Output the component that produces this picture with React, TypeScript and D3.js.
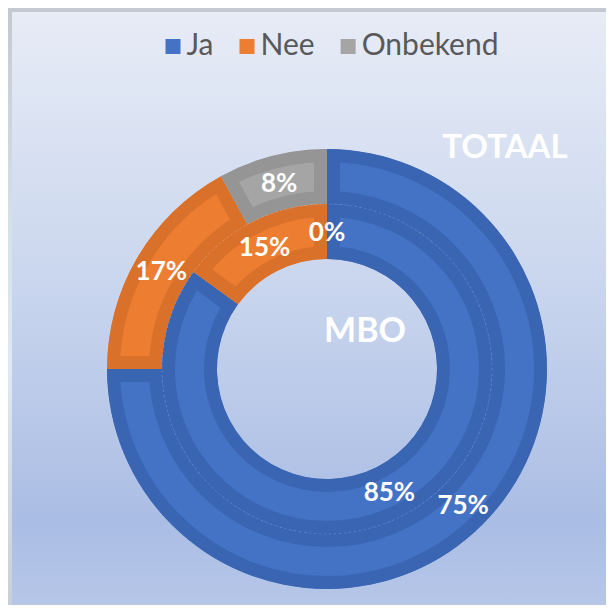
import React, { useEffect, useRef } from 'react';
import * as d3 from 'd3';

// series in drawing order (clockwise from 12 o'clock)
const categories = ['Ja', 'Nee', 'Onbekend'];
const totaalValues = [75, 17, 8];
const mboValues = [85, 15, 0];
const ringNames = ['TOTAAL', 'MBO'];

const fillColors = ['#4472C4', '#ED7D31', '#A5A5A5'];
const edgeColors = ['#3A65B3', '#D9712B', '#959595'];

const W = 614;
const H = 613;
const FONT = 'Lato, Carlito, Calibri, "Open Sans", sans-serif';

export default function App() {
  const ref = useRef<SVGSVGElement>(null);

  useEffect(() => {
    if (!ref.current) return;
    const svg = d3.select(ref.current);
    svg.selectAll('*').remove();

    const defs = svg.append('defs');
    const bg = defs.append('linearGradient').attr('id', 'panelGrad')
      .attr('x1', 0).attr('y1', 0).attr('x2', 0).attr('y2', 1);
    [['0%', '#E7ECF6'], ['45%', '#CAD6EE'], ['85%', '#AABDE4'], ['100%', '#B7C8E9']].forEach(([o, c]) =>
      bg.append('stop').attr('offset', o).attr('stop-color', c));

    const outerGrad = defs.append('linearGradient').attr('id', 'outerGrad')
      .attr('x1', 0).attr('y1', 0).attr('x2', 0).attr('y2', 1);
    [['0%', '#C3C8D0'], ['40%', '#D6E2EA'], ['60%', '#DCEAF2'], ['100%', '#C9CED6']].forEach(([o, c]) =>
      outerGrad.append('stop').attr('offset', o).attr('stop-color', c));

    // slide backdrop + chart panel
    svg.append('rect').attr('width', W).attr('height', H).attr('fill', 'url(#outerGrad)');
    svg.append('rect').attr('x', 12).attr('y', 12).attr('width', W - 12).attr('height', H - 12)
      .attr('fill', 'url(#panelGrad)');

    const cx = 327;
    const cy = 369;
    const rOuter = 220;
    const ringW = 55;
    const band = 13;

    const pie = d3.pie<number>().sort(null).value(d => d);

    const drawRing = (values: number[], r0: number, r1: number, key: string) => {
      const arc = d3.arc<d3.PieArcDatum<number>>().innerRadius(r0).outerRadius(r1);
      const g = svg.append('g').attr('transform', `translate(${cx},${cy})`);
      const arcs = pie(values);
      arcs.forEach((a, i) => {
        if (a.endAngle - a.startAngle <= 0) return;
        const id = `clip-${key}-${i}`;
        // clip in the slice's own (translated) user space
        defs.append('clipPath').attr('id', id)
          .append('path').attr('d', arc(a) as string);
        g.append('path')
          .attr('d', arc(a) as string)
          .attr('fill', fillColors[i])
          .attr('stroke', edgeColors[i])
          .attr('stroke-width', band * 2)
          .attr('clip-path', `url(#${id})`);
      });
      arcs.forEach((a, i) => {
        const [x, y] = arc.centroid(a);
        g.append('text')
          .attr('x', x).attr('y', y)
          .attr('text-anchor', 'middle').attr('dy', '0.36em')
          .attr('fill', '#fff').attr('font-family', FONT).attr('font-weight', 700)
          .attr('font-size', 26)
          .text(`${values[i]}%`);
      });
    };

    drawRing(totaalValues, rOuter - ringW, rOuter, 'tot');
    drawRing(mboValues, rOuter - 2 * ringW, rOuter - ringW, 'mbo');

    // faint dotted seam between rings
    svg.append('circle').attr('cx', cx).attr('cy', cy).attr('r', rOuter - ringW)
      .attr('fill', 'none').attr('stroke', 'rgba(255,255,255,0.2)')
      .attr('stroke-width', 0.8).attr('stroke-dasharray', '2,3');

    // ring titles
    svg.append('text').attr('x', 505).attr('y', 158).attr('text-anchor', 'middle')
      .attr('fill', '#fff').attr('font-family', FONT).attr('font-weight', 700).attr('font-size', 33)
      .text(ringNames[0]);
    svg.append('text').attr('x', 365).attr('y', 342).attr('text-anchor', 'middle')
      .attr('fill', '#fff').attr('font-family', FONT).attr('font-weight', 700).attr('font-size', 34)
      .text(ringNames[1]);

    // legend, laid out from measured text widths
    const legend = svg.append('g');
    const sw = 15;
    const gapIn = 6;
    const gapOut = 26;
    let x = 0;
    categories.forEach((c, i) => {
      const item = legend.append('g').attr('transform', `translate(${x},0)`);
      item.append('rect').attr('x', 0).attr('y', 39).attr('width', sw).attr('height', sw)
        .attr('fill', fillColors[i]);
      const t = item.append('text').attr('x', sw + gapIn).attr('y', 55)
        .attr('fill', '#595959').attr('font-family', FONT).attr('font-size', 30)
        .text(c);
      const tw = (t.node() as SVGTextElement).getComputedTextLength();
      x += sw + gapIn + tw + gapOut;
    });
    const total = x - gapOut;
    legend.attr('transform', `translate(${332 - total / 2},0)`);
  }, []);

  return (
    <div style={{ width: W, height: H, margin: -8 }}>
      <svg ref={ref} width={W} height={H} style={{ display: 'block' }} />
    </div>
  );
}
